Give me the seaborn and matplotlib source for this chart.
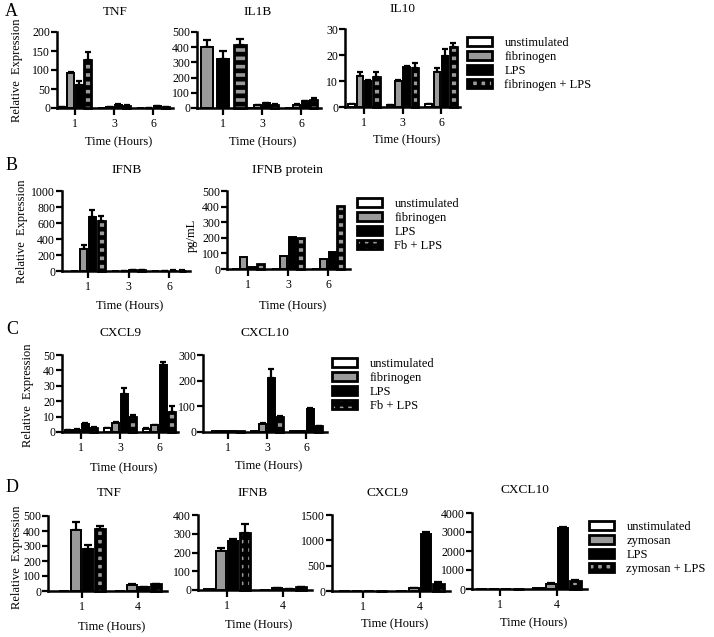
import numpy as np
import pandas as pd
import matplotlib
matplotlib.use("Agg")
import matplotlib.pyplot as plt
import seaborn as sns
from matplotlib.patches import Patch

sns.set_theme(style="ticks", rc={"axes.edgecolor": "black", "text.color": "black",
                                 "xtick.color": "black", "ytick.color": "black",
                                 "axes.labelcolor": "black"})
plt.rcParams["font.family"] = ["Liberation Serif", "DejaVu Serif"]
plt.rcParams["hatch.linewidth"] = 3.4

# ---------------- data ----------------
cond_fb = ["unstimulated", "fibrinogen", "LPS", "fibrinogen + LPS"]
cond_fb_short = ["unstimulated", "fibrinogen", "LPS", "Fb + LPS"]
cond_zy = ["unstimulated", "zymosan", "LPS", "zymosan + LPS"]
times_abc = ["1", "3", "6"]
times_d = ["1", "4"]

# rows: unstimulated, stimulus, LPS, stimulus + LPS ; columns: time points
a_tnf = [[3, 1, 1], [92, 2, 1], [61, 9, 4], [127, 6, 3]]
a_tnf_err = [[0.5, 0, 0], [2, 0.3, 0.2], [10, 1, 0.5], [21, 1, 0.5]]
a_il1b = [[0, 0, 0], [402, 18, 22], [322, 31, 44], [417, 22, 53]]
a_il1b_err = [[0, 0, 0], [44, 2, 3], [55, 3, 3], [40, 2, 13]]
a_il10 = [[1, 0.8, 1], [11.9, 10, 13.6], [10, 15.5, 19.6], [11.4, 14.9, 23.2]]
a_il10_err = [[0.1, 0.1, 0.1], [1.7, 0.4, 1.3], [0.3, 0.4, 2.6], [2.2, 1.9, 1.6]]

b_ifnb = [[2, 2, 2], [271, 5, 4], [671, 12, 6], [629, 8, 6]]
b_ifnb_err = [[0, 0, 0], [50, 1, 0.5], [95, 2, 1], [55, 1, 1]]
b_prot = [[0, 0, 0], [77, 85, 66], [13, 202, 106], [32, 198, 404]]
b_prot_err = [[0, 0, 0], [0, 0, 0], [0, 0, 0], [0, 0, 0]]

c_cxcl9 = [[1.1, 2.4, 2.2], [1.5, 5.9, 4.3], [5.2, 24.8, 43.5], [2.8, 9.5, 12.8]]
c_cxcl9_err = [[0.1, 0.2, 0.2], [0.2, 0.5, 0.4], [0.4, 3.9, 2], [0.3, 1.8, 3.9]]
c_cxcl10 = [[3, 2, 3], [2, 32, 3], [4, 212, 89], [2, 58, 22]]
c_cxcl10_err = [[0, 0, 0], [0, 3, 0], [0, 33, 6], [0, 4, 3]]

d_tnf = [[0, 0], [406, 42], [279, 24], [413, 45]]
d_tnf_err = [[0, 0], [52, 6], [27, 2], [22, 3]]
d_ifnb = [[5, 0], [210, 9], [261, 7], [302, 14]]
d_ifnb_err = [[0, 0], [12, 1], [9, 1], [48, 2]]
d_cxcl9 = [[0, 0], [0, 60], [0, 1125], [0, 140]]
d_cxcl9_err = [[0, 0], [0, 5], [0, 30], [0, 45]]
d_cxcl10 = [[0, 40], [0, 270], [0, 3200], [0, 420]]
d_cxcl10_err = [[0, 0], [0, 40], [0, 50], [0, 50]]

FILLS = ["white", "#9a9a9a", "black", "#9a9a9a"]

# ---------------- layout helpers ----------------
W, H = 714, 637
fig = plt.figure(figsize=(W / 100, H / 100), dpi=100)


def fx(px):
    return px / W


def fy(py):
    return 1 - py / H


def panel(rect, g0, g1, times, conds, means, errs, ymax, ystep, title, title_xy,
          xlabel_y, hatch="--", cap=2.2, ylabel=None, ylabel_xy=None, gap=0.2,
          wide0=None):
    L, R, T, B = rect
    ax = fig.add_axes([fx(L), fy(B), (R - L) / W, (B - T) / H])
    rows = []
    for ci, c in enumerate(conds):
        for ti, t in enumerate(times):
            rows.append({"time": t, "condition": c, "value": means[ci][ti]})
    df = pd.DataFrame(rows)
    pal = dict(zip(conds, FILLS))
    width = 0.86
    sns.barplot(data=df, x="time", y="value", hue="condition", order=times,
                hue_order=conds, palette=pal, errorbar=None, width=width, gap=gap,
                edgecolor="black", linewidth=1.4, saturation=1, legend=False, ax=ax)
    slot = width / len(conds)
    for p in ax.patches:
        xc = p.get_x() + p.get_width() / 2
        ti = int(round(xc))
        hi = int(round((xc - ti + width / 2) / slot - 0.5))
        if wide0 is not None and ti == 0 and hi > 0:
            w, offs = wide0
            p.set_width(w)
            p.set_x(ti + offs[hi - 1] - w / 2)
            xc = ti + offs[hi - 1]
        p.set_clip_on(False)
        p.set_zorder(3)
        if hi == 3:
            p.set_hatch(hatch)
            p.set_linewidth(2.0)
        e = errs[hi][ti]
        if e > 0:
            c_px = cap * (p.get_width() / slot) if wide0 is not None and ti == 0 else cap
            ax.errorbar([xc], [p.get_height()], yerr=[[0], [e]], fmt="none",
                        ecolor="black", elinewidth=1.6, capsize=c_px, capthick=1.6,
                        zorder=2, clip_on=False)
    n = len(times)
    sp = (g1 - g0) / (n - 1)
    ax.set_xlim(-(g0 - L) / sp, (n - 1) + (R - g1) / sp)
    ax.set_ylim(0, ymax)
    ax.set_yticks(np.arange(0, ymax + 0.1, ystep))
    sns.despine(ax=ax)
    for s in ["left", "bottom"]:
        ax.spines[s].set_linewidth(1.8)
    ax.tick_params(axis="y", direction="out", length=4, width=1.6, labelsize=8.5, pad=1)
    ax.tick_params(axis="x", direction="out", length=5, width=1.6, labelsize=8.5, pad=2)
    ax.set_xlabel("Time (Hours)", fontsize=9)
    ax.xaxis.set_label_coords(fx((L + R) / 2 + 4), fy(xlabel_y), transform=fig.transFigure)
    ax.xaxis.label.set_va("center")
    if ylabel:
        ax.set_ylabel(ylabel, fontsize=9)
        ax.yaxis.set_label_coords(fx(ylabel_xy[0]), fy(ylabel_xy[1]), transform=fig.transFigure)
        ax.yaxis.label.set_va("center")
    else:
        ax.set_ylabel("")
    fig.text(fx(title_xy[0]), fy(title_xy[1]), title, fontsize=9.5, ha="center", va="center")
    return ax


def legend(labels, x, y):
    handles = [Patch(facecolor=f, edgecolor="black", linewidth=2.0,
                     hatch=("++" if i == 3 else None), label=l)
               for i, (f, l) in enumerate(zip(FILLS, labels))]
    fig.legend(handles=handles, loc="upper left", bbox_to_anchor=(fx(x), fy(y)),
               bbox_transform=fig.transFigure, frameon=False, fontsize=9,
               handlelength=2.0, handleheight=0.75, handletextpad=1.0,
               labelspacing=0.15, borderpad=0, borderaxespad=0)


def letter(s, x, y):
    fig.text(fx(x), fy(y), s, fontsize=13, ha="left", va="center")


# ---------------- panel A ----------------
letter("A", 5, 12)
panel((57, 173, 32, 108), 75, 153, times_abc, cond_fb, a_tnf, a_tnf_err, 200, 50,
      "TNF", (115, 12), 142, ylabel="Relative  Expression", ylabel_xy=(17, 70))
panel((197, 321, 32, 108), 223, 301, times_abc, cond_fb, a_il1b, a_il1b_err, 500, 100,
      "IL1B", (258, 12), 142, wide0=(0.31, (-0.41, 0.0, 0.43)))
panel((345, 460, 29, 107), 364, 441, times_abc, cond_fb, a_il10, a_il10_err, 30, 10,
      "IL10", (402, 9), 140)
legend(cond_fb, 467, 37)

# ---------------- panel B ----------------
letter("B", 6, 166)
panel((62, 190, 191, 271), 88, 169, times_abc, cond_fb_short, b_ifnb, b_ifnb_err, 1000, 200,
      "IFNB", (127, 170), 306, ylabel="Relative  Expression", ylabel_xy=(22, 231))
panel((227, 350, 191, 269), 248, 328, times_abc, cond_fb_short, b_prot, b_prot_err, 500, 100,
      "IFNB protein", (288, 170), 306, ylabel="pg/mL", ylabel_xy=(192, 235))
legend(cond_fb_short, 357, 198)

# ---------------- panel C ----------------
letter("C", 6, 330)
panel((62, 178, 355, 432), 81, 159, times_abc, cond_fb_short, c_cxcl9, c_cxcl9_err, 50, 10,
      "CXCL9", (120, 333), 468, ylabel="Relative  Expression", ylabel_xy=(28, 395))
panel((203, 327, 355, 432), 228, 306, times_abc, cond_fb_short, c_cxcl10, c_cxcl10_err, 300, 100,
      "CXCL10", (265, 333), 466)
legend(cond_fb_short, 332, 358)

# ---------------- panel D ----------------
letter("D", 6, 487)
panel((48, 167, 516, 591), 82, 138, times_d, cond_zy, d_tnf, d_tnf_err, 500, 100,
      "TNF", (109, 493), 627, hatch="++", cap=3, gap=0.15,
      ylabel="Relative  Expression", ylabel_xy=(17, 557))
panel((198, 312, 515, 590), 227, 283, times_d, cond_zy, d_ifnb, d_ifnb_err, 400, 100,
      "IFNB", (253, 493), 625, hatch="++", cap=3, gap=0.15)
panel((332, 450, 515, 591), 363, 420, times_d, cond_zy, d_cxcl9, d_cxcl9_err, 1500, 500,
      "CXCL9", (388, 493), 624, hatch="++", cap=3, gap=0.15)
panel((472, 587, 513, 589), 500, 557, times_d, cond_zy, d_cxcl10, d_cxcl10_err, 4000, 1000,
      "CXCL10", (525, 490), 623, hatch="++", cap=3, gap=0.15)
legend(cond_zy, 589, 521)

fig.savefig("out.png", dpi=100)
